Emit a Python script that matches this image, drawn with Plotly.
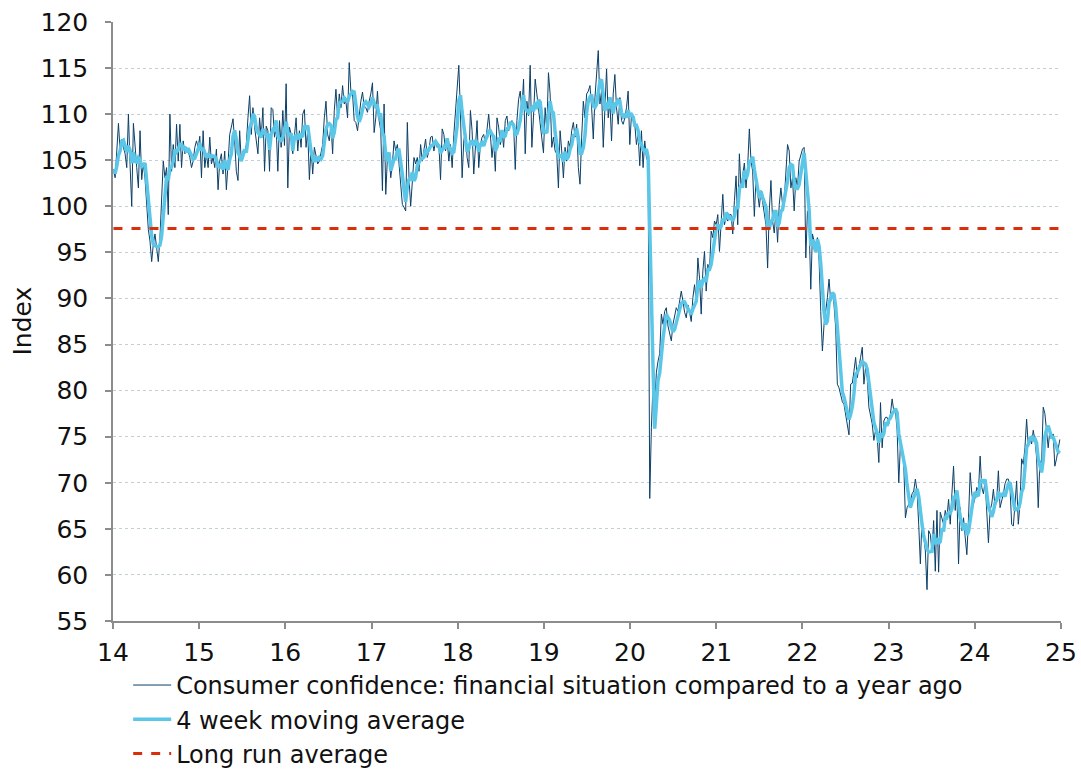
import pandas as pd
import plotly.graph_objects as go

# Weekly index values (Jan 2014 - Dec 2024)
raw_2014_2015 = [104.0, 103.1, 106, 109, 106, 107.3, 106.4, 105.7, 104.2, 110, 104.5, 100, 109, 106, 104.2, 102, 108.2,
                 102.9, 104.7, 103, 99.5, 97.5, 96.2, 94, 95.9, 97, 95.5, 94, 96.6, 101, 104.9, 103.1, 104.2, 99.1,
                 110, 103.8, 106.7, 104.2, 108.9, 104.9, 108.9, 104.2, 107.1, 105.7, 106.4, 106, 105.3, 104.2, 104.9,
                 106.4, 107.1, 106.4, 107.6, 103.1, 108.2, 104.2, 105.7, 104.2, 107.5, 104.6, 105.3, 104.2, 106.2,
                 101.8, 104.9, 105.7, 103.5, 106, 101.8, 104.6, 107.8, 108.6, 109.5, 107.1, 103.8, 102.8, 108.2]
raw_2015_2016 = [104.9, 106, 105.7, 106.7, 109.6, 112, 107.8, 110.7, 108.6, 107.1, 105.7, 109.6, 107.5, 110.7, 103.8,
                 108.7, 108.2, 103.8, 110.7, 110.5, 107.5, 108.6, 103.8, 109.3, 106.4, 110.4, 106.6, 113.3, 102,
                 108.6, 107.8, 105.7, 107.8, 109.6, 106, 108.2, 106.4, 110, 110.5, 106.4, 108.2, 102.9, 106.4, 103.5,
                 106.4, 105.3, 104.6, 104.9, 105.7, 106.7, 109.6, 111.4, 107.8, 107.1, 108.9, 105.7, 110.4, 112.7,
                 109.6, 112.2, 110.7, 113.1, 111.1, 111.4, 109.6, 115.6, 112.5, 112.2, 109.3, 109.1, 108.2, 110,
                 111.4, 112.4, 110.9, 110.7, 110.2, 111.4]
raw_2016_2018 = [112.2, 113.4, 108, 109.6, 112.5, 109.3, 108.2, 101.7, 111.1, 101.3, 105.3, 105.7, 103.1, 104.6, 107.1,
                 106, 106.7, 104.6, 102.4, 100.2, 99.9, 99.5, 109.1, 103.1, 100, 102.6, 105.3, 104.6, 105.3, 103.8,
                 106.7, 104.9, 106, 107.3, 105.3, 106, 107.5, 107.6, 106, 107.1, 106.4, 106.7, 102.9, 108.4, 107.8,
                 106, 107.3, 104.9, 106.7, 104.2, 107.8, 110.4, 112.5, 115.3, 110, 103.1, 107.1, 108.2, 105.3, 104.2,
                 110.4, 108.2, 103.5, 106.7, 109.3, 104.2, 106.7, 107.5, 107.8, 106.7, 108.2, 110, 107.8, 105.3,
                 107.1, 103.8, 109.6, 108.6]
raw_2018_2019 = [106.7, 108.2, 106.4, 109.3, 109.8, 108.2, 108.9, 109.3, 108.9, 104, 109.3, 111.6, 112.5, 110.4, 113.8,
                 105.7, 111.4, 109.8, 115.3, 106.4, 109.8, 113.8, 112.2, 110.4, 108.9, 107.1, 105.8, 110.7, 108.2,
                 114.5, 112.2, 106.4, 107.5, 106, 105.7, 102, 108.2, 106, 103.1, 106.4, 104.9, 107.1, 106.4, 108.2,
                 109.1, 107.5, 108.9, 104.2, 102.4, 107.5, 111.4, 109.6, 112.2, 112.5, 113.1, 110.7, 107.3, 111.8,
                 114.5, 116.9, 111.1, 112.5, 106.4, 111.4, 114.9, 109.6, 111.4, 107.1, 112.2, 114.3, 110.7, 108.9,
                 111.8, 109.3, 108.9, 109.6, 110.7, 112.5]
raw_2020_2021 = [106.7, 110, 109.6, 108.9, 106.7, 107.8, 104.4, 108.2, 104.2, 107.1, 105.3, 104.8, 68.3, 76, 80.7,
                 78.5, 82, 83.2, 84, 88.3, 87.2, 88.6, 89, 87, 86, 85.4, 87.2, 88, 89, 88.6, 89.5, 90.8, 89.7, 88.5,
                 87.9, 89.3, 88.5, 87.5, 90.1, 91.5, 89.7, 94.4, 92.2, 88.3, 93, 95.1, 90.8, 93.7, 93, 97.3, 96.6,
                 98.4, 98, 99.1, 95.1, 99.1, 101.3, 98, 98.8, 98.4, 99.1, 99.1, 97, 100.6]
raw_2021_2022 = [103.3, 98, 105.7, 102, 103.1, 104.7, 102, 104.4, 108.4, 104.9, 103.8, 98.9, 103.1, 101.7, 99.9, 101.7,
                 100.6, 99.5, 98, 93.3, 99.5, 102.8, 98.4, 97.1, 99.5, 96.1, 100.2, 102, 100.2, 100.6, 103.5, 106.7,
                 106, 102, 103.1, 99.5, 103.1, 102, 104.9, 105.7, 106.2, 106.4, 94.4, 99.5, 98, 91, 97, 96.2, 95.9,
                 96.6, 94.1, 88.6, 84.3, 87.2, 88.6, 90.1, 92.1, 89.7, 90.6, 89.3, 86.8, 80.7, 80.3, 79.6, 78.8, 78.5,
                 77.4, 76.3, 75.2, 80.7, 80.8, 82.1, 83.6, 81.4, 82.8, 83.6]
raw_2022_2024 = [84.7, 80.7, 82.5, 81.4, 78.2, 77.1, 76.4, 74.6, 75.7, 74.9, 72.2, 78.7, 73.8, 76.7, 77.1, 77.1, 76.4,
                 77.5, 79.1, 77.8, 77.8, 75.7, 70, 74.2, 73.5, 72, 66.2, 67.3, 67.7, 68, 68.8, 69.1, 70.4, 69.1, 65.5,
                 61.2, 66.2, 64.1, 62.6, 58.4, 64.8, 64.4, 62.6, 65.9, 60.4, 67, 60.3, 66.8, 66.2, 65.5, 67, 66.2,
                 68.2, 65.5, 68.8, 71.8, 67, 69.1, 61.2, 67.3, 64.8, 66.2, 64.1, 62.2, 66.2, 71.1, 68.8, 67.7, 68.4,
                 69.5, 69.1, 72.9, 69.5, 68.8, 70.2]
raw_2024 = [67, 63.5, 67, 67.7, 69.3, 67.3, 68.2, 71.3, 67.3, 68, 68.8, 69.9, 70.4, 70.4, 69.5, 65.5, 65.3, 67.7, 70.2,
            65.5, 67.7, 72.6, 72, 73.8, 76.9, 74, 74.7, 74.2, 75.7, 74.6, 72.8, 67.3, 72.4, 72, 78.2, 77.5, 75.3, 73.8,
            75.7, 75, 75.3, 71.8, 72.6, 73.8, 74.7]

long_run_average = 97.6
tick_labels = ["14", "15", "16", "17", "18", "19", "20", "21", "22", "23", "24", "25"]

raw = (raw_2014_2015 + raw_2015_2016 + raw_2016_2018 + raw_2018_2019 + raw_2020_2021
       + raw_2021_2022 + raw_2022_2024 + raw_2024)
dates = pd.date_range("2014-01-03", "2024-12-27", periods=len(raw))
ma4 = pd.Series(raw).rolling(4, min_periods=1).mean()

FONT = "DejaVu Sans, Verdana, sans-serif"
FS = 25

fig = go.Figure()
fig.add_trace(go.Scatter(x=dates, y=raw, mode="lines",
                         name="Consumer confidence: financial situation compared to a year ago",
                         line=dict(color="#0a3f68", width=1)))
fig.add_trace(go.Scatter(x=dates, y=ma4, mode="lines", name="4 week moving average",
                         line=dict(color="#5ac6e8", width=3.5)))
fig.add_trace(go.Scatter(x=[dates[0], dates[-1]], y=[long_run_average] * 2, mode="lines",
                         name="Long run average",
                         line=dict(color="#d9300b", width=3, dash="dash")))

fig.update_layout(
    width=1081, height=774,
    margin=dict(l=113, r=20, t=22, b=153, autoexpand=False),
    paper_bgcolor="white", plot_bgcolor="white",
    font=dict(family=FONT, size=FS, color="#111111"),
    showlegend=True,
    legend=dict(x=0.016, y=-0.07, xanchor="left", yanchor="top",
                font=dict(family=FONT, size=24), tracegroupgap=0, itemwidth=38,
                bgcolor="rgba(0,0,0,0)"),
    annotations=[dict(text="Index", textangle=-90, xref="paper", yref="paper",
                      x=-(113 - 22) / 948, y=0.5, xanchor="center", yanchor="middle",
                      showarrow=False, font=dict(size=FS))],
)
fig.update_xaxes(
    range=["2014-01-01", "2025-01-01"], automargin=False,
    tickvals=[f"20{t}-01-01" for t in tick_labels], ticktext=tick_labels,
    showgrid=False, showline=True, linecolor="#8c8c8c", linewidth=1.5,
    ticks="outside", ticklen=6, tickcolor="#8c8c8c", tickwidth=1.5,
    tickfont=dict(size=FS), ticklabelstandoff=2,
)
fig.update_yaxes(
    range=[55, 120], dtick=5, tick0=55, automargin=False,
    showgrid=True, gridcolor="#c3cfd6", griddash="dot", gridwidth=1,
    showline=True, linecolor="#8c8c8c", linewidth=1.5,
    ticks="outside", ticklen=6, tickcolor="#8c8c8c", tickwidth=1.5,
    tickfont=dict(size=FS), ticklabelstandoff=12, zeroline=False,
)

fig.write_html("out.html", config={"displayModeBar": False},
               post_script="document.body.style.margin='0px';")
